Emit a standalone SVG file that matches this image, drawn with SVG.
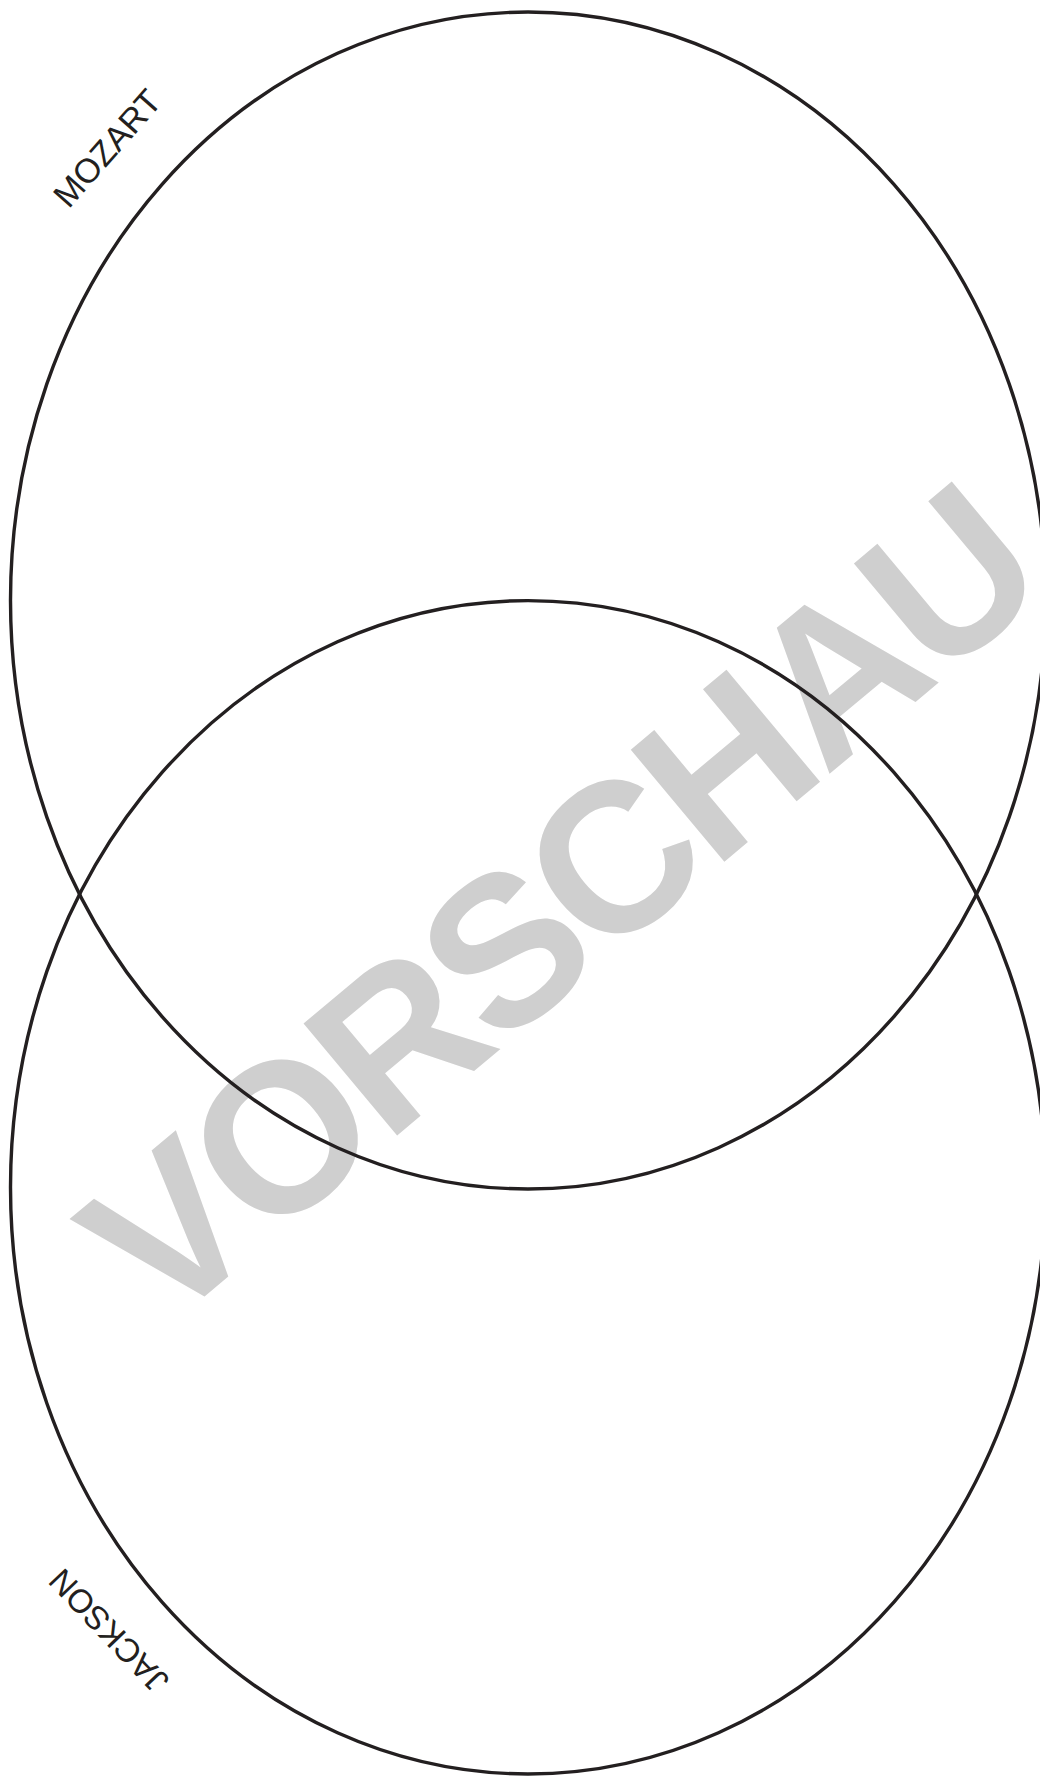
<svg xmlns="http://www.w3.org/2000/svg" width="1040" height="1776" viewBox="0 0 1040 1776">
  <style>
    .set { fill: none; stroke: #231f20; stroke-width: 3.4; }
    .label { font-family: "Liberation Sans", Arial, sans-serif; font-size: 34px; fill: #231f20; text-anchor: middle; }
    .wm { font-family: "Liberation Sans", Arial, sans-serif; font-size: 212px; font-weight: bold; fill: #cfcfcf; letter-spacing: -7px; }
  </style>
  <rect width="1040" height="1776" fill="#ffffff"/>
  <text class="wm" transform="translate(162,1332) rotate(-39.9)">VORSCHAU</text>
  <g id="mozart">
    <ellipse class="set" cx="528" cy="600.5" rx="517.5" ry="588.5"/>
    <text class="label" transform="translate(116,156) rotate(-48.5)">MOZART</text>
  </g>
  <g id="jackson">
    <ellipse class="set" cx="528" cy="1187.3" rx="517.5" ry="586.7"/>
    <text class="label" style="font-size:33px" transform="translate(117,1623) rotate(-133.5)">JACKSON</text>
  </g>
  <g id="connectors"/>
</svg>
